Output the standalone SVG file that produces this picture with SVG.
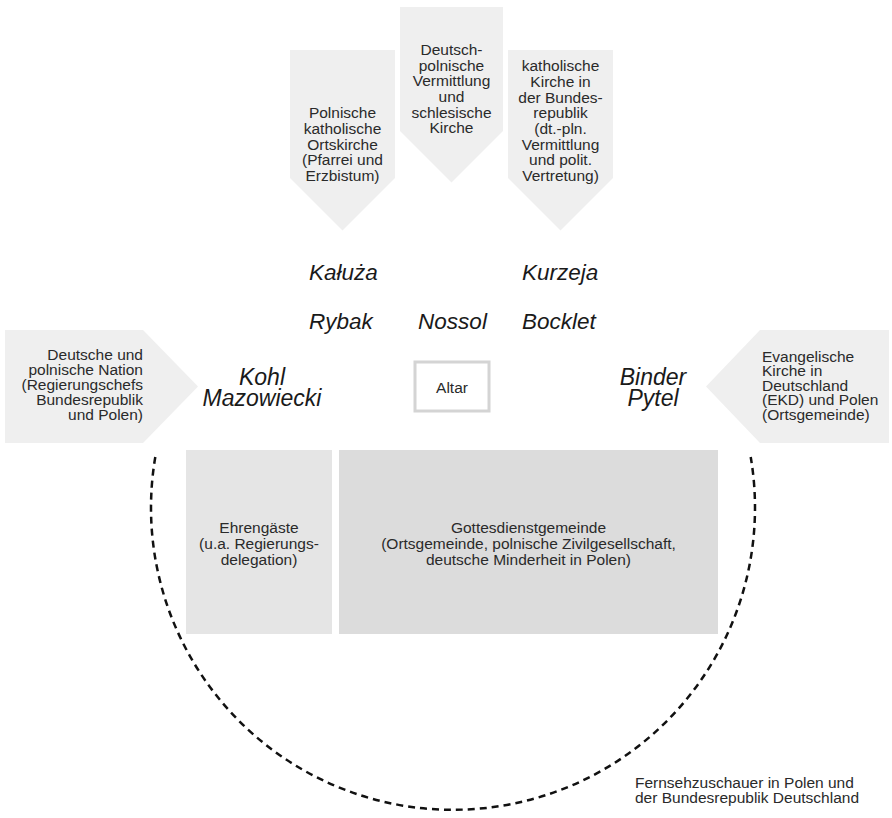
<svg xmlns="http://www.w3.org/2000/svg" width="892" height="818" viewBox="0 0 892 818">
<style>
.t{font-family:"Liberation Sans",Arial,sans-serif;font-size:15.5px;fill:#2a2a2a}
.c{text-anchor:middle}
.e{text-anchor:end}
.n{font-family:"Liberation Sans",Arial,sans-serif;font-style:italic;font-size:22.5px;fill:#1a1a1a}
.n2{font-family:"Liberation Sans",Arial,sans-serif;font-style:italic;font-size:23px;fill:#1a1a1a;text-anchor:middle}
.arrow{fill:#efefef}
</style>
<rect width="892" height="818" fill="#ffffff"/>

<g id="arrow-polnische-kirche">
<path class="arrow" d="M290 50 H395 V178 L342.5 230.5 L290 178 Z"/>
<text class="t c" x="342.5" y="118.2">Polnische<tspan x="342.5" dy="15.7">katholische</tspan><tspan x="342.5" dy="15.7">Ortskirche</tspan><tspan x="342.5" dy="15.7">(Pfarrei und</tspan><tspan x="342.5" dy="15.7">Erzbistum)</tspan></text>
</g>

<g id="arrow-vermittlung">
<path class="arrow" d="M400 7 H503 V131 L451.5 182.5 L400 131 Z"/>
<text class="t c" x="451.5" y="54.8">Deutsch-<tspan x="451.5" dy="15.7">polnische</tspan><tspan x="451.5" dy="15.7">Vermittlung</tspan><tspan x="451.5" dy="15.7">und</tspan><tspan x="451.5" dy="15.7">schlesische</tspan><tspan x="451.5" dy="15.7">Kirche</tspan></text>
</g>

<g id="arrow-kath-kirche-brd">
<path class="arrow" d="M508 50 H613 V178 L560.5 230.5 L508 178 Z"/>
<text class="t c" x="560.5" y="71.1">katholische<tspan x="560.5" dy="15.7">Kirche in</tspan><tspan x="560.5" dy="15.7">der Bundes-</tspan><tspan x="560.5" dy="15.7">republik</tspan><tspan x="560.5" dy="15.7">(dt.-pln.</tspan><tspan x="560.5" dy="15.7">Vermittlung</tspan><tspan x="560.5" dy="15.7">und polit.</tspan><tspan x="560.5" dy="15.7">Vertretung)</tspan></text>
</g>

<g id="arrow-nation">
<path class="arrow" d="M5 330 H143 L198 386.5 L143 443 H5 Z"/>
<text class="t e" x="143" y="360">Deutsche und<tspan x="143" dy="15">polnische Nation</tspan><tspan x="143" dy="15">(Regierungschefs</tspan><tspan x="143" dy="15">Bundesrepublik</tspan><tspan x="143" dy="15">und Polen)</tspan></text>
</g>

<g id="arrow-ekd">
<path class="arrow" d="M889 330 H760 L706 386.5 L760 443 H889 Z"/>
<text class="t" x="762" y="361.5">Evangelische<tspan x="762" dy="14.6">Kirche in</tspan><tspan x="762" dy="14.6">Deutschland</tspan><tspan x="762" dy="14.6">(EKD) und Polen</tspan><tspan x="762" dy="14.6">(Ortsgemeinde)</tspan></text>
</g>

<g id="names">
<text class="n" x="309" y="280">Kałuża</text>
<text class="n" x="522" y="280">Kurzeja</text>
<text class="n" x="309" y="329">Rybak</text>
<text class="n" x="452.5" y="329" text-anchor="middle">Nossol</text>
<text class="n" x="522" y="329">Bocklet</text>
<text class="n2" x="262" y="385">Kohl<tspan x="262" dy="21">Mazowiecki</tspan></text>
<text class="n2" x="653" y="385">Binder<tspan x="653" dy="20.5">Pytel</tspan></text>
</g>

<g id="altar">
<rect x="415" y="362" width="74" height="49" fill="#ffffff" stroke="#d4d4d4" stroke-width="3"/>
<text class="t c" x="452" y="393">Altar</text>
</g>

<g id="ehrengaeste">
<rect x="186" y="450" width="146" height="184" fill="#e5e5e5"/>
<text class="t c" x="259" y="533">Ehrengäste<tspan x="259" dy="16">(u.a. Regierungs-</tspan><tspan x="259" dy="16">delegation)</tspan></text>
</g>

<g id="gottesdienstgemeinde">
<rect x="339" y="450" width="379" height="184" fill="#dcdcdc"/>
<text class="t c" x="528.5" y="533">Gottesdienstgemeinde<tspan x="528.5" dy="16">(Ortsgemeinde, polnische Zivilgesellschaft,</tspan><tspan x="528.5" dy="16">deutsche Minderheit in Polen)</tspan></text>
</g>

<g id="connectors">
<path d="M155.3 457 A302 302 0 1 0 750.7 457" fill="none" stroke="#111111" stroke-width="2.5" stroke-dasharray="7 5"/>
</g>

<g id="fernsehzuschauer">
<text class="t" x="635" y="788">Fernsehzuschauer in Polen und<tspan x="635" dy="15">der Bundesrepublik Deutschland</tspan></text>
</g>
</svg>
